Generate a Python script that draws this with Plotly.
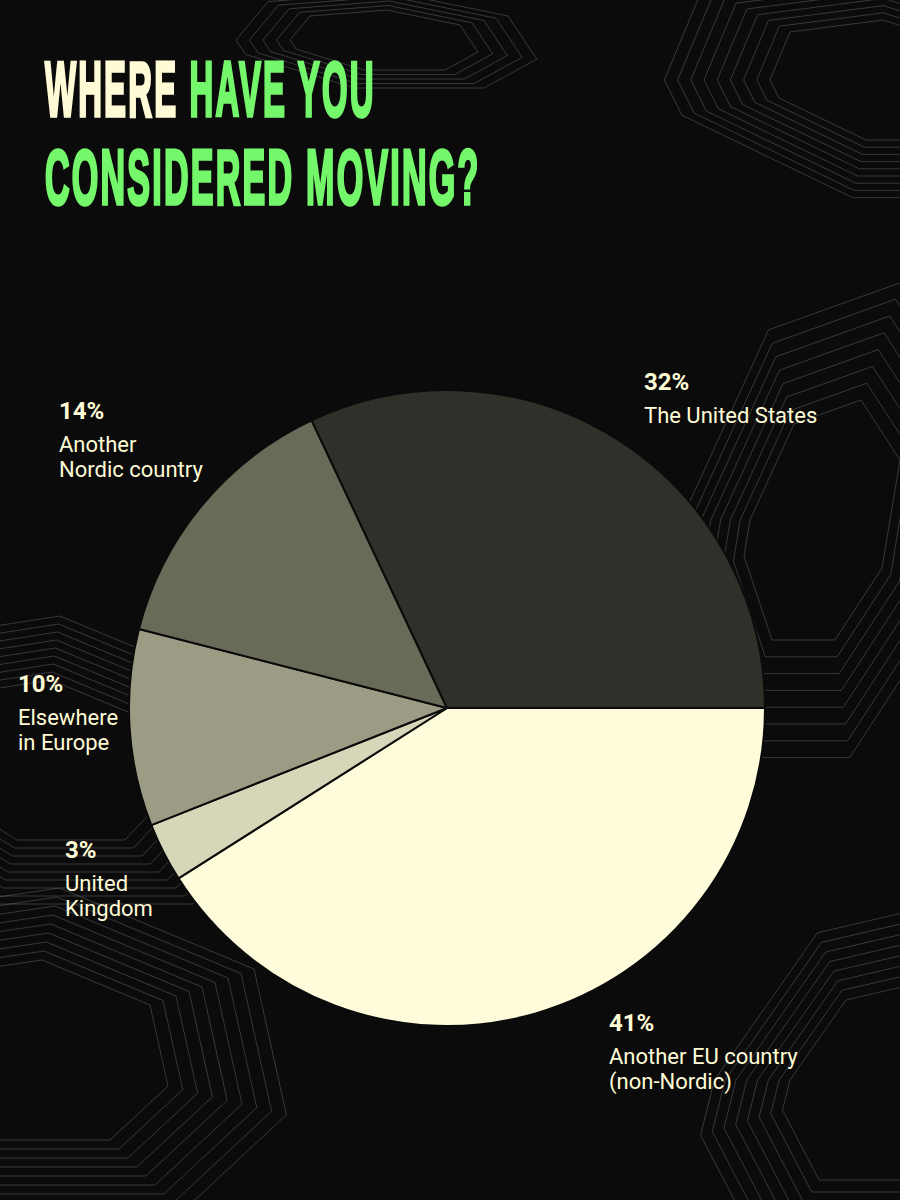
import plotly.graph_objects as go

# ---- Data ----
categories = ["Another EU country\n(non-Nordic)", "United\nKingdom", "Elsewhere\nin Europe",
              "Another\nNordic country", "The United States"]
values = [41, 3, 10, 14, 32]
colors = ["#fefcda", "#d6d6b8", "#9c9b83", "#6a6a58", "#302f29"]

# Label anchor positions (px): left x, baseline y of the percentage line
label_pos = [(607, 1030), (63, 857), (16, 691), (57, 418), (642, 389)]

W, H = 900, 1200
cx, cy, r = 447, 708, 318
cream = "#fffbd6"
green = "#74f76b"

fig = go.Figure()

# decorative background contour lines
def add_deco(fig, x0, y0, n, step, sx, sy, skew):
    base = [(-1, 0), (-0.6, -0.8), (0.3, -1), (1, -0.5), (1, 0.4), (0.5, 1), (-0.4, 1), (-1, 0.3)]
    for i in range(n):
        s = 1 + i * step
        pts = [(x0 + (px * sx + py * skew) * s, y0 + py * sy * s) for (px, py) in base]
        d = "M " + " L ".join(f"{p[0]:.1f},{p[1]:.1f}" for p in pts) + " Z"
        fig.add_shape(type="path", path=d, xref="x", yref="y",
                      line=dict(color="rgba(150,150,150,0.33)", width=1), layer="below")

add_deco(fig, 880, 80, 9, 0.12, 110, 60, 30)
add_deco(fig, 820, 520, 8, 0.14, 70, 120, -20)
add_deco(fig, 40, 760, 9, 0.1, 120, 80, 25)
add_deco(fig, 20, 1050, 9, 0.1, 140, 90, 20)
add_deco(fig, 880, 1080, 8, 0.12, 90, 100, -25)
add_deco(fig, 380, 40, 5, 0.15, 90, 30, 20)

fig.add_trace(go.Pie(
    values=values,
    labels=[c.replace("\n", " ") for c in categories],
    marker=dict(colors=colors, line=dict(color="#0b0b0b", width=2)),
    sort=False,
    direction="clockwise",
    rotation=90,
    textinfo="none",
    hoverinfo="label+percent",
    showlegend=False,
    domain=dict(x=[(cx - r) / W, (cx + r) / W], y=[(H - cy - r) / H, (H - cy + r) / H]),
))

PCT_SIZE, LAB_SIZE = 24, 22
lab_font = "Roboto, Inter, sans-serif"

def add_text(x, baseline, text, size, color, family):
    top = baseline - 0.95 * size
    fig.add_annotation(x=x / W, y=1 - top / H, xref="paper", yref="paper",
                       xanchor="left", yanchor="top", showarrow=False, align="left",
                       text=text, font=dict(family=family, size=size, color=color))

for cat, v, (lx, ly) in zip(categories, values, label_pos):
    add_text(lx, ly, f"<b>{v}%</b>", PCT_SIZE, cream, lab_font)
    for i, line in enumerate(cat.split("\n")):
        add_text(lx, ly + 33 + 25 * i, line, LAB_SIZE, cream, lab_font)

# Title (condensed in the browser below)
TITLE_SIZE = 77
title_family = "Liberation Sans, Arial, sans-serif"
add_text(43, 117, f"<b><span style='color:{cream}'>WHERE</span> HAVE YOU</b>", TITLE_SIZE, green, title_family)
add_text(43, 205, "<b>CONSIDERED MOVING?</b>", TITLE_SIZE, green, title_family)

fig.update_layout(
    width=W, height=H,
    margin=dict(l=0, r=0, t=0, b=0),
    paper_bgcolor="#0b0b0b",
    plot_bgcolor="#0b0b0b",
    xaxis=dict(range=[0, W], visible=False, fixedrange=True),
    yaxis=dict(range=[H, 0], visible=False, fixedrange=True),
)

post = """
document.body.style.margin='0';
document.body.style.background='#0b0b0b';
(function(){
  var gd=document.getElementById('{plot_id}');
  function fix(){
    gd.querySelectorAll('text.annotation-text').forEach(function(t){
      if(t.getAttribute('data-condensed')) return;
      var txt=t.textContent.trim();
      var want=null;
      if(txt.indexOf('WHERE')===0) want=330;
      if(txt.indexOf('CONSIDERED')===0) want=435;
      if(want===null) return;
      var sw=3.5;
      t.style.letterSpacing='5px';
      [t].concat(Array.prototype.slice.call(t.querySelectorAll('tspan'))).forEach(function(el){
        var f=getComputedStyle(el).fill;
        el.style.stroke=f; el.style.strokeWidth=sw+'px'; el.style.strokeLinejoin='miter';
      });
      var b=t.getBBox();
      var sx=want/(b.width-5+sw);
      var x0=b.x;
      var old=t.getAttribute('transform')||'';
      t.setAttribute('transform',old+' translate('+x0+',0) scale('+sx+',1) translate('+(-x0)+',0)');
      t.setAttribute('data-condensed','1');
    });
  }
  fix();
  gd.on && gd.on('plotly_afterplot', fix);
})();
"""

fig.write_html("out.html", post_script=post, config={"displayModeBar": False})
